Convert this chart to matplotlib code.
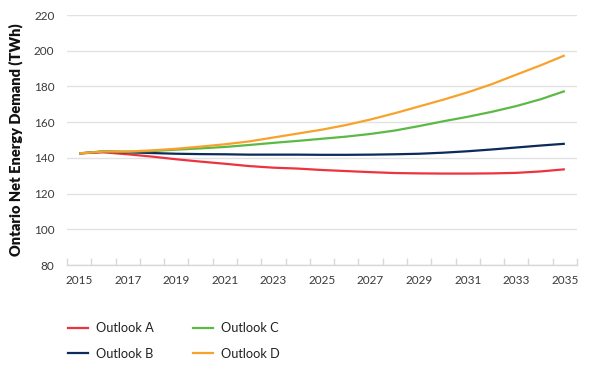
import matplotlib
matplotlib.use("Agg")
import matplotlib.pyplot as plt
from matplotlib.lines import Line2D
import numpy as np

years = list(range(2015, 2036))
outlook_a = [142.5, 143.1, 142.0, 140.7, 139.2, 137.9, 136.7, 135.4, 134.5, 134.0, 133.2,
             132.6, 132.0, 131.5, 131.3, 131.2, 131.2, 131.3, 131.6, 132.4, 133.6]
outlook_b = [142.5, 143.5, 143.1, 142.7, 142.3, 142.1, 142.0, 141.8, 141.8, 141.8, 141.7,
             141.7, 141.8, 142.0, 142.3, 142.9, 143.7, 144.7, 145.8, 146.9, 147.9]
outlook_c = [142.5, 143.7, 143.5, 143.8, 144.6, 145.3, 146.1, 147.2, 148.4, 149.5, 150.7,
             151.9, 153.4, 155.3, 157.8, 160.5, 163.0, 165.8, 169.0, 172.8, 177.4]
outlook_d = [142.5, 143.5, 143.5, 144.2, 145.1, 146.3, 147.6, 149.2, 151.4, 153.6, 155.8,
             158.4, 161.5, 165.0, 168.8, 172.6, 176.7, 181.3, 186.6, 191.8, 197.4]
series_names = ["Outlook A", "Outlook B", "Outlook C", "Outlook D"]
colors = ["#ec3340", "#0c2a5b", "#5cb946", "#f8a22c"]
y_ticks = [80, 100, 120, 140, 160, 180, 200, 220]
x_tick_labels = [str(y) for y in years[::2]]

plt.rcParams['font.family'] = ['Lato', 'DejaVu Sans']

fig = plt.figure(figsize=(5.9, 3.88), dpi=100)
ax = fig.add_axes([67/590, 1-265/388, 510/590, 250/388])

x = np.arange(len(years))
for vals, c in zip([outlook_a, outlook_b, outlook_c, outlook_d], colors):
    ax.plot(x, vals, color=c, lw=1.6, solid_capstyle='butt')

ax.set_xlim(-0.5, len(years) - 0.5)
ax.set_ylim(80, 220)
ax.set_yticks(y_ticks)
ax.set_yticklabels([str(v) for v in y_ticks], fontsize=8.5, color="#3a3a3a")
ax.set_xticks(x[::2])
ax.set_xticklabels(x_tick_labels, fontsize=8.5, color="#3a3a3a")
ax.set_xticks(np.arange(-0.5, len(years), 1.0), minor=True)
ax.tick_params(axis='x', which='major', length=0, pad=7)
ax.tick_params(axis='x', which='minor', direction='in', length=5, color="#d8d8d8", width=1)
ax.tick_params(axis='y', length=0, pad=9)

ax.grid(axis='y', color="#e2e2e2", lw=1)
ax.set_axisbelow(True)
for s in ['top', 'right', 'left']:
    ax.spines[s].set_visible(False)
ax.spines['bottom'].set_color("#d8d8d8")
ax.spines['bottom'].set_linewidth(1)

ax.set_ylabel("Ontario Net Energy Demand (TWh)", fontsize=10.5, fontweight='heavy',
              color="#111111", labelpad=8)

handles = [Line2D([0], [0], color=c, lw=1.6) for c in colors]
fig.legend(handles, series_names, loc='upper left', bbox_to_anchor=(56/590, 1-311/388),
           ncol=2, frameon=False, fontsize=9.2, handlelength=1.6, handletextpad=0.6,
           columnspacing=3.1, labelspacing=1.05, labelcolor="#222222")

fig.savefig("out.png", dpi=100)
